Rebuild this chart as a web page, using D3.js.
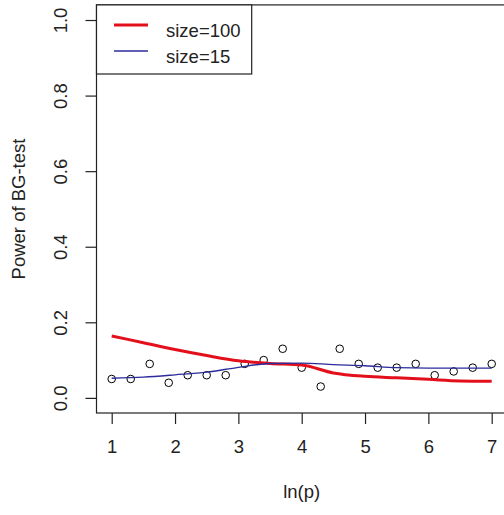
<!DOCTYPE html>
<html>
<head>
<meta charset="utf-8">
<script src="https://cdn.jsdelivr.net/npm/d3@7"></script>
<style>
  html, body { margin: 0; padding: 0; background: #fff; }
  svg { display: block; }
  text { font-family: "Liberation Sans", Arial, sans-serif; fill: #222; }
</style>
</head>
<body>
<script>
// ---- data ----
const pointX = [1, 1.3, 1.6, 1.9, 2.2, 2.5, 2.8, 3.1, 3.4, 3.7, 4.0, 4.3, 4.6, 4.9, 5.2, 5.5, 5.8, 6.1, 6.4, 6.7, 7.0];
const pointY = [0.05, 0.05, 0.09, 0.04, 0.06, 0.06, 0.06, 0.09, 0.10, 0.13, 0.08, 0.03, 0.13, 0.09, 0.08, 0.08, 0.09, 0.06, 0.07, 0.08, 0.09];
const lineX = [1, 1.5, 2, 2.5, 3, 3.5, 4, 4.5, 5, 5.5, 6, 6.5, 7];
const size100 = [0.164, 0.146, 0.128, 0.112, 0.098, 0.091, 0.087, 0.066, 0.057, 0.053, 0.049, 0.045, 0.044];
const size15 = [0.052, 0.055, 0.061, 0.068, 0.081, 0.091, 0.092, 0.088, 0.085, 0.080, 0.079, 0.079, 0.079];
const xTicks = [1, 2, 3, 4, 5, 6, 7];
const yTicks = [0, 0.2, 0.4, 0.6, 0.8, 1.0];
const legendLabels = ["size=100", "size=15"];
const seriesColors = ["#e3101c", "#2b2b9c"];

// ---- layout ----
const W = 504, H = 515;
const svg = d3.select("body").append("svg").attr("width", W).attr("height", H);
svg.append("rect").attr("width", W).attr("height", H).attr("fill", "#fff");

const x = d3.scaleLinear().domain([0.76, 7.24]).range([96.5, 506.9]);
const y = d3.scaleLinear().domain([-0.04, 1.04]).range([413, 4.9]);
const fs = 18.5;

// points
svg.append("g").selectAll("circle").data(pointX).join("circle")
  .attr("cx", d => x(d))
  .attr("cy", (d, i) => y(pointY[i]))
  .attr("r", 3.8)
  .attr("fill", "none")
  .attr("stroke", "#000")
  .attr("stroke-width", 1);

const line = d3.line().x(d => x(d[0])).y(d => y(d[1])).curve(d3.curveMonotoneX);
svg.append("path").attr("d", line(lineX.map((v, i) => [v, size100[i]])))
  .attr("fill", "none").attr("stroke", seriesColors[0]).attr("stroke-width", 3);
svg.append("path").attr("d", line(lineX.map((v, i) => [v, size15[i]])))
  .attr("fill", "none").attr("stroke", seriesColors[1]).attr("stroke-width", 1.3);

// box
svg.append("rect").attr("x", 96.5).attr("y", 4.9).attr("width", 506.9 - 96.5).attr("height", 413 - 4.9)
  .attr("fill", "none").attr("stroke", "#222").attr("stroke-width", 1.2);

// x axis
const xa = svg.append("g").attr("transform", "translate(0,413)")
  .call(d3.axisBottom(x).tickValues(xTicks).tickFormat(d3.format("d")).tickSize(11).tickPadding(16));
xa.select(".domain").remove();
xa.selectAll("line").attr("stroke", "#222").attr("stroke-width", 1.2);
xa.selectAll("text").attr("font-size", fs).attr("fill", "#222").style("font-family", "Liberation Sans, Arial, sans-serif");

// y axis
const ya = svg.append("g").attr("transform", "translate(96.5,0)")
  .call(d3.axisLeft(y).tickValues(yTicks).tickFormat(d3.format(".1f")).tickSize(11));
ya.select(".domain").remove();
ya.selectAll("line").attr("stroke", "#222").attr("stroke-width", 1.2);
ya.selectAll("text").remove();
ya.selectAll(".tick").append("text")
  .attr("transform", "translate(-29.5,0) rotate(-90)")
  .attr("text-anchor", "middle")
  .attr("font-size", fs)
  .attr("fill", "#222")
  .style("font-family", "Liberation Sans, Arial, sans-serif")
  .text(d => d3.format(".1f")(d));

// axis titles
svg.append("text").attr("x", x(4)).attr("y", 498).attr("text-anchor", "middle")
  .attr("font-size", fs).text("ln(p)");
svg.append("text").attr("transform", "translate(24.5,209) rotate(-90)").attr("text-anchor", "middle")
  .attr("font-size", fs).text("Power of BG-test");

// legend
const lg = svg.append("g");
lg.append("rect").attr("x", 96.5).attr("y", 4.9).attr("width", 251.7 - 96.5).attr("height", 74 - 4.9)
  .attr("fill", "#fff").attr("stroke", "#222").attr("stroke-width", 1.2);
const legendY = [25, 51];
const legendW = [3, 1.3];
legendLabels.forEach((lab, i) => {
  lg.append("line").attr("x1", 114).attr("x2", 148).attr("y1", legendY[i]).attr("y2", legendY[i])
    .attr("stroke", seriesColors[i]).attr("stroke-width", legendW[i]);
  lg.append("text").attr("x", 166).attr("y", legendY[i] + 11.5).attr("font-size", fs).text(lab);
});
</script>
</body>
</html>
